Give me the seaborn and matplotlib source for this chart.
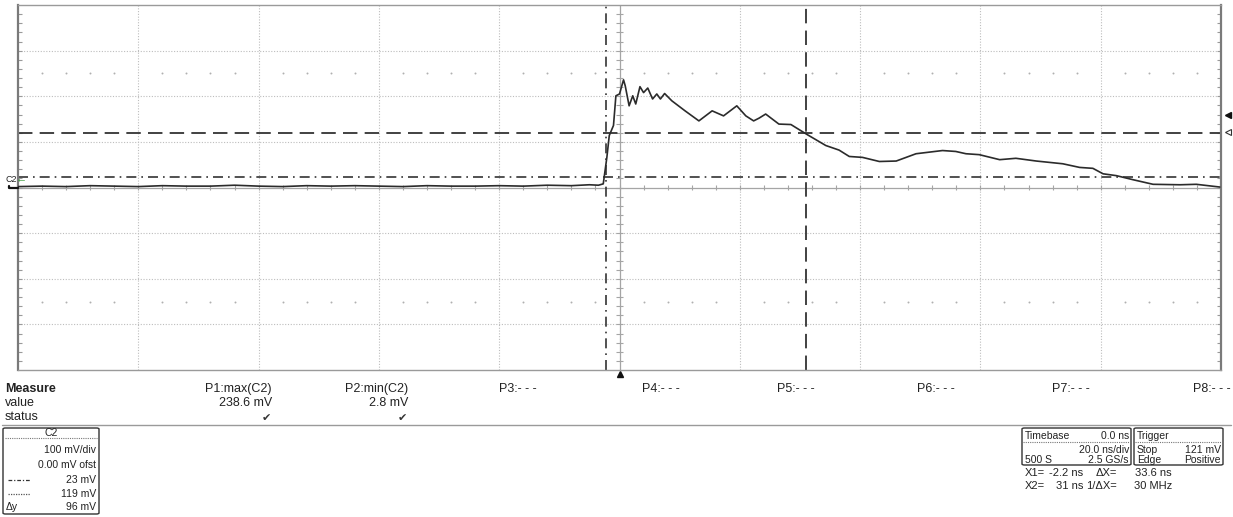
import numpy as np
import pandas as pd
import matplotlib
matplotlib.use("Agg")
import matplotlib.pyplot as plt
from matplotlib.patches import FancyBboxPatch
from matplotlib.lines import Line2D
import seaborn as sns

# trace of channel C2, time in ns, amplitude in mV
TIME_NS = [
    -100, -96, -92, -88, -84, -80, -76, -72, -68, -64, -60, -56, -52, -48,
    -44, -40, -36, -32, -28, -24, -20, -16, -12, -8, -5, -3.5, -2.7,
    -2.1, -1.7, -1.0, -0.6, 0.0, 0.67, 0.95, 1.6, 2.2, 2.7, 3.4, 4.0, 4.7,
    5.5, 6.2, 6.8, 7.5, 8.7, 10.9, 13.2, 15.4, 17.3, 19.5, 21.0, 22.3,
    23.2, 24.3, 26.5, 28.5, 31.2, 34.3, 36.5, 38.2, 40.4, 43.2, 46.0,
    49.3, 53.7, 55.9, 57.6, 59.8, 63.2, 65.9, 69.3, 73.7, 76.5, 78.7,
    80.4, 82.6, 85.4, 88.7, 93.2, 95.9, 99.8,
]
VOLT_MV = [
    2, 3, 2, 4, 3, 2, 4, 3, 3, 5, 3, 2, 4, 3,
    4, 3, 2, 4, 3, 3, 4, 3, 5, 4, 6, 5, 8,
    66, 114, 136, 201, 205, 236, 223, 179, 201, 183, 221, 208, 218,
    194, 205, 194, 206, 190, 168, 146, 168, 157, 179, 157, 146,
    152, 161, 139, 138, 116, 92, 82, 68, 66, 57, 58,
    74, 81, 79, 74, 72, 61, 64, 58, 52, 44, 42,
    30, 26, 17, 7, 6, 7, 1,
]

CURSOR_X = [-2.2, 31.0]       # X1, X2 in ns
CURSOR_Y = [23.0, 119.0]      # dash-dot and dotted levels in mV
TRIGGER_MV = 121.0
MARKER_MV = 160.0

MEASURE_HEADERS = ["P1:max(C2)", "P2:min(C2)", "P3:- - -", "P4:- - -",
                   "P5:- - -", "P6:- - -", "P7:- - -", "P8:- - -"]
MEASURE_VALUES = ["238.6 mV", "2.8 mV", "", "", "", "", "", ""]
MEASURE_OK = [True, True, False, False, False, False, False, False]

W, H = 1233, 517
TEXT = "#222222"
FONTS = ["Liberation Sans", "DejaVu Sans"]


def fx(x):
    return x / W


def fy(y):
    return 1 - y / H


def ftext(fig, x, y, s, **kw):
    kw.setdefault("fontsize", 7.5)
    kw.setdefault("color", TEXT)
    kw.setdefault("va", "center")
    kw.setdefault("family", FONTS)
    fig.text(fx(x), fy(y), s, **kw)


def box(fig, x0, y0, x1, y1):
    patch = FancyBboxPatch(
        (fx(x0), fy(y1)), fx(x1 - x0), (y1 - y0) / H,
        boxstyle="round,pad=0,rounding_size=0.002",
        transform=fig.transFigure, facecolor="none",
        edgecolor="#333333", linewidth=1.0,
    )
    fig.add_artist(patch)


def hline_fig(fig, x0, x1, y, **kw):
    fig.add_artist(Line2D([fx(x0), fx(x1)], [fy(y), fy(y)],
                          transform=fig.transFigure, **kw))


sns.set_theme(style="white")
plt.rcParams["font.family"] = FONTS

df = pd.DataFrame({"time": TIME_NS, "mv": VOLT_MV})

fig = plt.figure(figsize=(W / 100, H / 100), dpi=100)
ax = fig.add_axes([fx(18), fy(370), 1203 / W, 365 / H])
ax.set_xlim(-100, 100)
ax.set_ylim(-400, 400)

# graticule
for gx in range(-80, 81, 20):
    if gx != 0:
        ax.axvline(gx, color="#bdbdbd", lw=0.8, ls=(0, (1, 1.5)), zorder=1)
for gy in range(-300, 301, 100):
    if gy != 0:
        ax.axhline(gy, color="#bdbdbd", lw=0.8, ls=(0, (1, 1.5)), zorder=1)
ax.axhline(0, color="#a5a5a5", lw=0.9, zorder=1)
ax.axvline(0, color="#a5a5a5", lw=0.9, zorder=1)
tx = np.arange(-96, 97, 4)
ax.vlines(tx, -6, 6, color="#a5a5a5", lw=0.8, zorder=1)
ty = np.arange(-380, 381, 20)
ax.hlines(ty, -0.5, 0.5, color="#a5a5a5", lw=0.8, zorder=1)
ax.hlines(ty, -100, -99.4, color="#9a9a9a", lw=0.8, zorder=1)
ax.hlines(ty, 99.4, 100, color="#9a9a9a", lw=0.8, zorder=1)
for row in (250, -250):
    sel = tx[tx % 20 != 0]
    ax.scatter(sel, np.full(len(sel), row),
               s=2.0, color="#b0b0b0", linewidths=0, zorder=1)

# cursors
ax.axvline(CURSOR_X[0], color="#333333", lw=1.2, ls=(0, (6, 3, 1, 3)), zorder=2)
ax.axvline(CURSOR_X[1], color="#333333", lw=1.3, ls=(0, (8, 4)), zorder=2)
ax.axhline(CURSOR_Y[0], color="#333333", lw=1.2, ls=(0, (6, 3, 1, 3)), zorder=2)
ax.axhline(CURSOR_Y[1], color="#333333", lw=1.3, ls=(0, (8, 4)), zorder=2)

sns.lineplot(data=df, x="time", y="mv", color="#2b2b2b", lw=1.2, ax=ax, zorder=3)

ax.set_xlabel("")
ax.set_ylabel("")
ax.set_xticks([])
ax.set_yticks([])
for side in ("left", "right"):
    ax.spines[side].set_color("#7a7a7a")
    ax.spines[side].set_linewidth(1.6)
for side in ("top", "bottom"):
    ax.spines[side].set_color("#9a9a9a")
    ax.spines[side].set_linewidth(1.0)

# markers around the screen
ax.plot([101.2], [MARKER_MV], marker="<", color="#111111", ms=5, clip_on=False)
ax.plot([101.2], [TRIGGER_MV], marker="<", mfc="white", mec="#333333",
        ms=5, mew=0.8, clip_on=False)
ax.plot([0], [-409], marker="^", color="#111111", ms=5, clip_on=False)
ftext(fig, 5, 180, "C2", fontsize=6.5)
ftext(fig, 16, 178, "\u2190", fontsize=8, color="#3a9a3a")
fig.add_artist(Line2D([fx(9), fx(9), fx(18)], [fy(186), fy(188), fy(188)],
                      transform=fig.transFigure, color="#111111", lw=1.6))

# measure table
ftext(fig, 5, 389, "Measure", fontsize=9, fontweight="bold")
ftext(fig, 5, 403, "value", fontsize=9)
ftext(fig, 5, 417, "status", fontsize=9)
col_right = [272, 408, 537, 680, 815, 955, 1090, 1231]
for xr, head, val, ok in zip(col_right, MEASURE_HEADERS, MEASURE_VALUES, MEASURE_OK):
    ftext(fig, xr, 389, head, fontsize=9, ha="right")
    if val:
        ftext(fig, xr, 403, val, fontsize=9, ha="right")
    if ok:
        ftext(fig, xr - 6, 418, "\u2714", fontsize=8, ha="center", color="#333333")
hline_fig(fig, 2, 1231, 425, color="#9a9a9a", lw=1.0)

# channel box
box(fig, 3, 428, 99, 514)
ftext(fig, 51, 433, "C2", ha="center")
hline_fig(fig, 5, 97, 438, color="#777777", lw=0.8, ls=(0, (1, 1)))
ftext(fig, 96, 450, "100 mV/div", ha="right")
ftext(fig, 96, 465, "0.00 mV ofst", ha="right")
ftext(fig, 96, 480, "23 mV", ha="right")
ftext(fig, 96, 494, "119 mV", ha="right")
ftext(fig, 96, 507, "96 mV", ha="right")
ftext(fig, 6, 507, "\u0394y")
hline_fig(fig, 8, 30, 480, color="#333333", lw=0.9, ls=(0, (3, 1.5, 1, 1.5)))
hline_fig(fig, 8, 30, 494, color="#555555", lw=0.9, ls=(0, (1, 1)))

# timebase / trigger
box(fig, 1022, 428, 1131, 465)
box(fig, 1134, 428, 1223, 465)
ftext(fig, 1025, 436, "Timebase")
ftext(fig, 1129, 436, "0.0 ns", ha="right")
hline_fig(fig, 1023, 1130, 442, color="#777777", lw=0.8, ls=(0, (1, 1)))
ftext(fig, 1129, 450, "20.0 ns/div", ha="right")
ftext(fig, 1025, 460, "500 S")
ftext(fig, 1129, 460, "2.5 GS/s", ha="right")
ftext(fig, 1137, 436, "Trigger")
hline_fig(fig, 1135, 1222, 442, color="#777777", lw=0.8, ls=(0, (1, 1)))
ftext(fig, 1137, 450, "Stop")
ftext(fig, 1221, 450, "121 mV", ha="right")
ftext(fig, 1137, 460, "Edge")
ftext(fig, 1221, 460, "Positive", ha="right")

ftext(fig, 1025, 473, "X1=", fontsize=8)
ftext(fig, 1083, 473, "-2.2 ns", fontsize=8, ha="right")
ftext(fig, 1117, 473, "\u0394X=", fontsize=8, ha="right")
ftext(fig, 1172, 473, "33.6 ns", fontsize=8, ha="right")
ftext(fig, 1025, 486, "X2=", fontsize=8)
ftext(fig, 1083, 486, "31 ns", fontsize=8, ha="right")
ftext(fig, 1117, 486, "1/\u0394X=", fontsize=8, ha="right")
ftext(fig, 1172, 486, "30 MHz", fontsize=8, ha="right")

fig.savefig("out.png", dpi=100, facecolor="white")
